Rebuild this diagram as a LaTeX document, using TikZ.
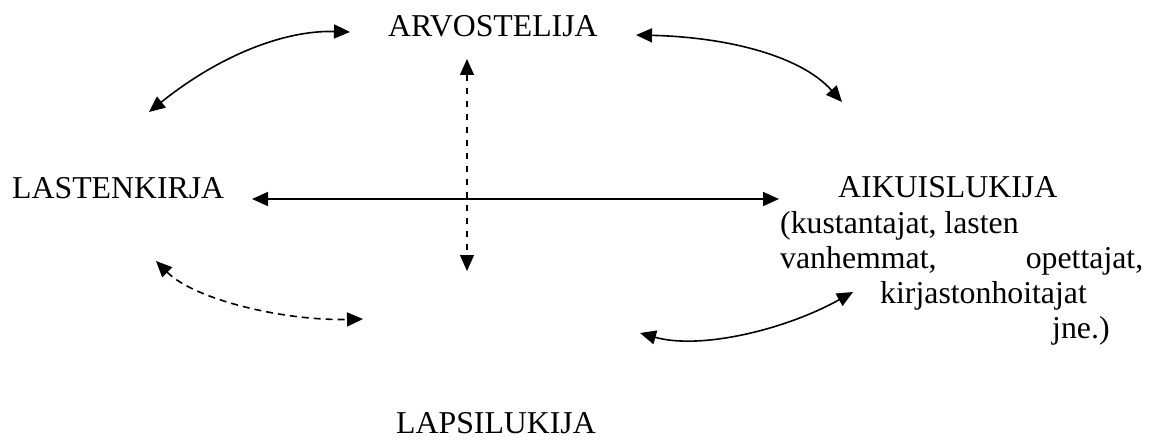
\documentclass[tikz,border=0pt]{standalone}
\usepackage{fontspec}
\setmainfont{Liberation Serif}
\usetikzlibrary{arrows.meta}
\begin{document}
\begin{tikzpicture}[x=1pt,y=-1pt,
  lbl/.style={anchor=base west,inner sep=0pt,font=\fontsize{31.8}{35.5}\selectfont},
  conn/.style={line width=1.6pt,{Triangle[length=16pt,width=14pt]}-{Triangle[length=16pt,width=14pt]}},
  dconn/.style={conn,dash pattern=on 7pt off 5pt},
  vconn/.style={conn,line width=1.3pt,dash pattern=on 6pt off 7pt}]
\useasboundingbox (0,0) rectangle (1158,441);
\node[lbl] (arv) at (388,37) {ARVOSTELIJA};
\node[lbl] (last) at (12,198) {LASTENKIRJA};
\node[lbl] (aik) at (838,197) {AIKUISLUKIJA};
\node[lbl] (k1) at (780,233) {(kustantajat, lasten};
\node[lbl] (k2) at (780,268) {\makebox[363pt][l]{vanhemmat,\hfill opettajat,}};
\node[lbl] (k3) at (880,303) {kirjastonhoitajat};
\node[lbl] (k4) at (1052,338) {jne.)};
\node[lbl] (laps) at (396,433) {LAPSILUKIJA};
% end coordinates
\coordinate (tlA) at (350,32);
\coordinate (tlB) at (149,112);
\coordinate (trA) at (636,35);
\coordinate (trB) at (842,102);
\coordinate (hA) at (252,199);
\coordinate (hB) at (779,199);
\coordinate (vA) at (467,59);
\coordinate (vB) at (467,271);
\coordinate (dlA) at (156,261);
\coordinate (dlB) at (363,319);
\coordinate (brA) at (640,333);
\coordinate (brB) at (853,292);
\draw[conn] (tlB) .. controls (220,55) and (285,30) .. (tlA);
\draw[conn] (trA) .. controls (725,37) and (800,55) .. (trB);
\draw[conn] (hA) -- (hB);
\draw[vconn] (vA) -- (vB);
\draw[dconn] (dlA) .. controls (195,300) and (285,321) .. (dlB);
\draw[conn] (brA) .. controls (700,350) and (785,330) .. (brB);
\end{tikzpicture}
\end{document}
